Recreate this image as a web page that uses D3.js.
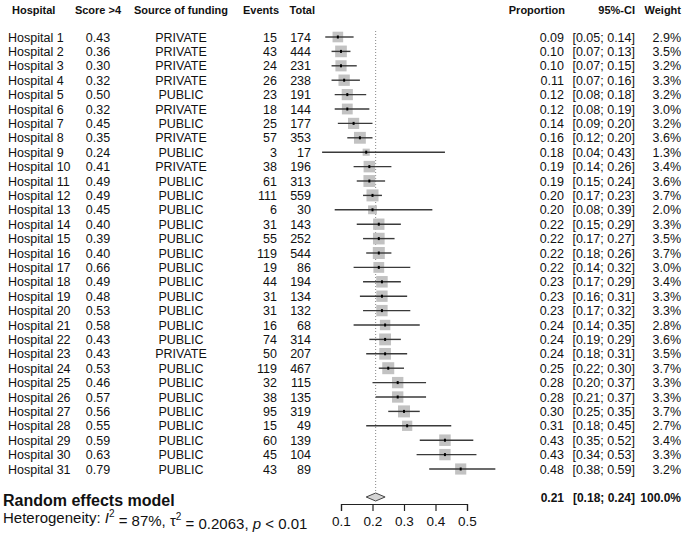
<!DOCTYPE html>
<html><head><meta charset="utf-8">
<script src="https://cdn.jsdelivr.net/npm/d3@7"></script>
<style>
body{margin:0;background:#fff;}
svg{display:block;font-family:"Liberation Sans",Arial,Helvetica,sans-serif;}
</style></head>
<body><svg id="c" width="685" height="535"></svg>
<script>
const hospitals = d3.range(1,32).map(i=>"Hospital "+i);
const scores = ["0.43","0.36","0.30","0.32","0.50","0.32","0.45","0.35","0.24","0.41","0.49","0.49","0.45","0.40","0.39","0.40","0.66","0.49","0.48","0.53","0.58","0.43","0.43","0.53","0.46","0.57","0.56","0.55","0.59","0.63","0.79"];
const funding = ["PRIVATE","PRIVATE","PRIVATE","PRIVATE","PUBLIC","PRIVATE","PUBLIC","PRIVATE","PUBLIC","PRIVATE","PUBLIC","PUBLIC","PUBLIC","PUBLIC","PUBLIC","PUBLIC","PUBLIC","PUBLIC","PUBLIC","PUBLIC","PUBLIC","PUBLIC","PRIVATE","PUBLIC","PUBLIC","PUBLIC","PUBLIC","PUBLIC","PUBLIC","PUBLIC","PUBLIC"];
const events = [15,43,24,26,23,18,25,57,3,38,61,111,6,31,55,119,19,44,31,31,16,74,50,119,32,38,95,15,60,45,43];
const totals = [174,444,231,238,191,144,177,353,17,196,313,559,30,143,252,544,86,194,134,132,68,314,207,467,115,135,319,49,139,104,89];
const prop = [0.09,0.10,0.10,0.11,0.12,0.12,0.14,0.16,0.18,0.19,0.19,0.20,0.20,0.22,0.22,0.22,0.22,0.23,0.23,0.23,0.24,0.24,0.24,0.25,0.28,0.28,0.30,0.31,0.43,0.43,0.48];
const lower = [0.05,0.07,0.07,0.07,0.08,0.08,0.09,0.12,0.04,0.14,0.15,0.17,0.08,0.15,0.17,0.18,0.14,0.17,0.16,0.17,0.14,0.19,0.18,0.22,0.20,0.21,0.25,0.18,0.35,0.34,0.38];
const upper = [0.14,0.13,0.15,0.16,0.18,0.19,0.20,0.20,0.43,0.26,0.24,0.23,0.39,0.29,0.27,0.26,0.32,0.29,0.31,0.32,0.35,0.29,0.31,0.30,0.37,0.37,0.35,0.45,0.52,0.53,0.59];
const weights = [2.9,3.5,3.2,3.3,3.2,3.0,3.2,3.6,1.3,3.4,3.6,3.7,2.0,3.3,3.5,3.7,3.0,3.4,3.3,3.3,2.8,3.6,3.5,3.7,3.3,3.3,3.7,2.7,3.4,3.3,3.2];
const pooled = {est:0.21, lo:0.18, hi:0.24, weight:"100.0%"};
const xTicks = [0.1,0.2,0.3,0.4,0.5];

const svg = d3.select("#c");
const x = d3.scaleLinear().domain([0.1,0.5]).range([341,467]);
const y = d3.scaleLinear().domain([0,30]).range([37,469]);
const boxSize = d3.scaleSqrt().domain([0,3.7]).range([0,12]);
const txt = "#111";
const fs = 12.5;

// headers
const hy = 14;
const hdr = (t,xp,anchor)=>svg.append("text").attr("x",xp).attr("y",hy).attr("text-anchor",anchor)
  .attr("font-size",11).attr("font-weight","bold").attr("fill",txt).text(t);
hdr("Hospital",12,"start");
hdr("Score >4",98,"middle");
hdr("Source of funding",181,"middle");
hdr("Events",279,"end");
hdr("Total",315,"end");
hdr("Proportion",565,"end");
hdr("95%-CI",635,"end");
hdr("Weight",681,"end");

// reference line
svg.append("line").attr("x1",x(pooled.est)).attr("x2",x(pooled.est))
  .attr("y1",y(0)-6).attr("y2",493).attr("stroke","#888").attr("stroke-width",1)
  .attr("stroke-dasharray","1,2");

const rows = svg.append("g").selectAll("g").data(hospitals).join("g")
  .attr("transform",(d,i)=>`translate(0,${y(i)})`);

const col = (fn,xp,anchor)=>rows.append("text").attr("x",xp).attr("dy","0.36em")
  .attr("text-anchor",anchor).attr("font-size",fs).attr("fill",txt).text(fn);
col(d=>d,8,"start");
col((d,i)=>scores[i],98,"middle");
col((d,i)=>funding[i],181,"middle");
col((d,i)=>events[i],277,"end");
col((d,i)=>totals[i],311,"end");
col((d,i)=>prop[i].toFixed(2),564,"end");
col((d,i)=>`[${lower[i].toFixed(2)}; ${upper[i].toFixed(2)}]`,635,"end");
col((d,i)=>weights[i].toFixed(1)+"%",681,"end");

// boxes
rows.append("rect")
  .attr("x",(d,i)=>x(prop[i])-boxSize(weights[i])/2)
  .attr("y",(d,i)=>-boxSize(weights[i])/2)
  .attr("width",(d,i)=>boxSize(weights[i]))
  .attr("height",(d,i)=>boxSize(weights[i]))
  .attr("fill","#c2c2c2");
rows.append("line")
  .attr("x1",(d,i)=>x(lower[i])).attr("x2",(d,i)=>x(upper[i]))
  .attr("y1",0).attr("y2",0).attr("stroke","#3a3a3a").attr("stroke-width",1.4);
rows.append("rect")
  .attr("x",(d,i)=>x(prop[i])-1).attr("y",-1.5).attr("width",2).attr("height",3)
  .attr("fill","#000");

// pooled
const py = 497;
svg.append("text").attr("x",3).attr("y",500).attr("dy","0.36em").attr("font-size",16)
  .attr("font-weight","bold").attr("fill",txt).text("Random effects model");
const het = svg.append("text").attr("x",3).attr("y",518).attr("dy","0.36em").attr("font-size",15).attr("fill",txt);
het.append("tspan").text("Heterogeneity: ");
het.append("tspan").attr("font-style","italic").text("I");
het.append("tspan").attr("font-size",10).attr("dy","-0.6em").text("2");
het.append("tspan").attr("dy","0.6em").text(" = 87%, τ");
het.append("tspan").attr("font-size",10).attr("dy","-0.6em").text("2");
het.append("tspan").attr("dy","0.6em").text(" = 0.2063, ");
het.append("tspan").attr("font-style","italic").text("p");
het.append("tspan").text(" < 0.01");

svg.append("path")
  .attr("d",`M${x(pooled.lo)},${py} L${x(pooled.est)},${py-4} L${x(pooled.hi)},${py} L${x(pooled.est)},${py+4} Z`)
  .attr("fill","#d4d4d4").attr("stroke","#444").attr("stroke-width",1);

const pb = (t,xp)=>svg.append("text").attr("x",xp).attr("y",498).attr("dy","0.36em").attr("text-anchor","end")
  .attr("font-size",12).attr("font-weight","bold").attr("fill",txt).text(t);
pb(pooled.est.toFixed(2),564);
pb(`[${pooled.lo.toFixed(2)}; ${pooled.hi.toFixed(2)}]`,635);
pb(pooled.weight,681);

// axis
const ax = svg.append("g").attr("transform","translate(0,504)")
  .call(d3.axisBottom(x).tickValues(xTicks).tickSize(7).tickPadding(5).tickFormat(d3.format(".1f")));
ax.select(".domain").attr("stroke","#222").attr("stroke-width",1.2);
ax.selectAll(".tick line").attr("stroke","#222").attr("stroke-width",1.2);
ax.selectAll(".tick text").attr("font-size",13.5).attr("fill",txt)
  .attr("font-family","'Liberation Sans',Arial,sans-serif");
</script></body></html>
